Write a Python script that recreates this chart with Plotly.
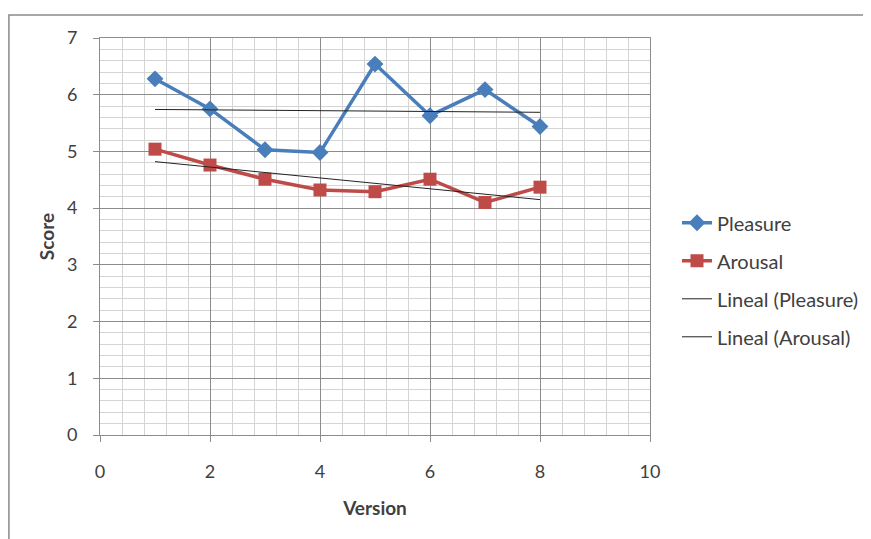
import plotly.graph_objects as go

versions = [1, 2, 3, 4, 5, 6, 7, 8]
pleasure = [6.28, 5.75, 5.03, 4.98, 6.54, 5.63, 6.09, 5.44]
arousal = [5.04, 4.76, 4.51, 4.32, 4.29, 4.51, 4.10, 4.37]
trend_x = [1, 8]
trend_pleasure = [5.74, 5.69]
trend_arousal = [4.82, 4.15]

FONT = "Lato"
TXT = "#404040"

fig = go.Figure()
fig.add_trace(go.Scatter(x=versions, y=pleasure, name="Pleasure", mode="lines+markers",
                         line=dict(color="#4A7EBB", width=3.5),
                         marker=dict(symbol="diamond", size=13, color="#4A7EBB"),
                         legendgroup="a"))
fig.add_trace(go.Scatter(x=versions, y=arousal, name="Arousal", mode="lines+markers",
                         line=dict(color="#BE4B48", width=3.5),
                         marker=dict(symbol="square", size=13, color="#BE4B48"),
                         legendgroup="b"))
fig.add_trace(go.Scatter(x=trend_x, y=trend_pleasure, name="Lineal (Pleasure)", mode="lines",
                         line=dict(color="#222222", width=1), legendgroup="c"))
fig.add_trace(go.Scatter(x=trend_x, y=trend_arousal, name="Lineal (Arousal)", mode="lines",
                         line=dict(color="#222222", width=1), legendgroup="d"))

OFF = 8  # page body margin
W, H = 871, 539
# desired screen-pixel positions of the plot area
SX0, SX1, SY0, SY1 = 100, 650, 37.5, 435
L, R, T, B = SX0 - OFF, W - (SX1 - OFF), SY0 - OFF, H - (SY1 - OFF)
pw, ph = SX1 - SX0, SY1 - SY0


def px(sx):
    return (sx - SX0) / pw


def py(sy):
    return (SY1 - sy) / ph


fig.update_layout(
    width=W, height=H,
    margin=dict(l=L, r=R, t=T, b=B, autoexpand=False),
    paper_bgcolor="white", plot_bgcolor="white",
    font=dict(family=FONT, size=18, color=TXT),
    showlegend=True,
    legend=dict(x=px(677), y=py(203), xanchor="left", yanchor="top",
                traceorder="grouped", tracegroupgap=9, itemwidth=30,
                font=dict(family=FONT, size=20, color=TXT), bgcolor="rgba(0,0,0,0)"),
    xaxis=dict(range=[0, 10], dtick=2, tick0=0, showgrid=True, gridcolor="#8C8C8C", gridwidth=1,
               minor=dict(dtick=0.4, tick0=0, showgrid=True, gridcolor="#D4D4D4", gridwidth=1.2),
               showline=True, linecolor="#8C8C8C", linewidth=1, mirror=True,
               ticks="outside", ticklen=6, tickcolor="#8C8C8C", automargin=False,
               zeroline=False, ticklabelstandoff=14, tickfont=dict(size=18),
               title=dict(text="<b>Version</b>", standoff=21, font=dict(size=19, color=TXT))),
    yaxis=dict(range=[0, 7], dtick=1, tick0=0, showgrid=True, gridcolor="#8C8C8C", gridwidth=1,
               minor=dict(dtick=0.2, tick0=0, showgrid=True, gridcolor="#D4D4D4", gridwidth=1.2),
               showline=True, linecolor="#8C8C8C", linewidth=1, mirror=True,
               ticks="outside", ticklen=6, tickcolor="#8C8C8C", automargin=False,
               zeroline=False, ticklabelstandoff=12, tickfont=dict(size=18),
               title=dict(text="<b>Score</b>", standoff=7, font=dict(size=19, color=TXT))),
    shapes=[dict(type="rect", xref="paper", yref="paper",
                 x0=px(8.9), x1=1.6, y0=-0.5, y1=py(14.5),
                 line=dict(color="#8A8A8A", width=1.5), fillcolor="rgba(0,0,0,0)", layer="below")],
)

fig.write_html("out.html")
